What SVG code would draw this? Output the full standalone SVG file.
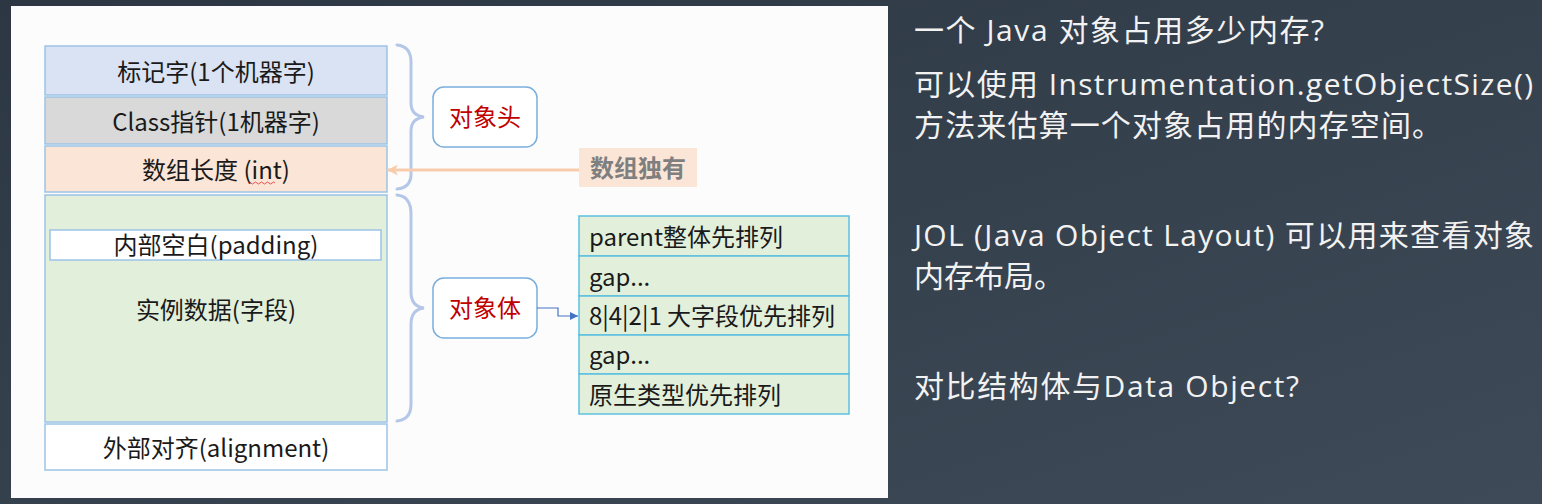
<svg xmlns="http://www.w3.org/2000/svg" width="1542" height="504" viewBox="0 0 1542 504">
<style>
.t{font-family:"Noto Sans CJK SC","Noto Sans",sans-serif;font-size:24px;fill:#1a1a1a}
.c{text-anchor:middle}
.box{stroke:#9dc3e6;stroke-width:1.5}
.row{fill:#e2efda;stroke:#5bc0e0;stroke-width:1.5}
.brace{fill:none;stroke:#b4c7e7;stroke-width:3;stroke-linecap:round}
.lbl{fill:#ffffff;stroke:#7aaedc;stroke-width:1.5}
.red{fill:#c00000}
.note{font-family:"Open Sans","Noto Sans CJK SC",sans-serif;font-size:30px;fill:#f2f2f2}
</style>
<defs>
<linearGradient id="bg" x1="0" y1="0" x2="1" y2="1">
<stop offset="0" stop-color="#2d3744"/>
<stop offset="1" stop-color="#3e4a57"/>
</linearGradient>
<marker id="ah-orange" markerWidth="11" markerHeight="11" refX="10" refY="5.5" orient="auto" markerUnits="userSpaceOnUse">
<path d="M0,0 L11,5.5 L0,11 L3,5.5 Z" fill="#f8cbad"/>
</marker>
<marker id="ah-blue" markerWidth="8" markerHeight="8" refX="8" refY="4" orient="auto" markerUnits="userSpaceOnUse">
<path d="M0,0 L8,4 L0,8 Z" fill="#4472c4"/>
</marker>
</defs>
<rect x="0" y="0" width="1542" height="504" fill="url(#bg)"/>
<rect x="11" y="6" width="877" height="492" fill="#fdfcfd"/>

<g id="mark-word">
<rect class="box" x="45" y="46" width="342" height="49" fill="#dae3f3"/>
<text class="t c" x="216" y="81">标记字(1个机器字)</text>
</g>
<g id="class-pointer">
<rect class="box" x="45" y="97" width="342" height="47" fill="#d9d9d9"/>
<text class="t c" x="216" y="131">Class指针(1机器字)</text>
</g>
<g id="array-length">
<rect class="box" x="45" y="146" width="342" height="46" fill="#fbe5d6"/>
<text class="t c" x="216" y="179">数组长度 (int)</text>
<path d="M248,183 q1.5,-2 3,0 t3,0 t3,0 t3,0 t3,0 t3,0 t3,0 t3,0 t3,0" fill="none" stroke="#e03030" stroke-width="0.8"/>
</g>
<g id="instance-data">
<rect class="box" x="45" y="195" width="342" height="227" fill="#e2efda"/>
<text class="t c" x="216" y="319">实例数据(字段)</text>
</g>
<g id="padding">
<rect class="box" x="50" y="230" width="331" height="30" fill="#ffffff"/>
<text class="t c" x="216" y="254">内部空白(padding)</text>
</g>
<g id="alignment">
<rect class="box" x="45" y="424" width="342" height="46" fill="#ffffff"/>
<text class="t c" x="216" y="457">外部对齐(alignment)</text>
</g>

<g id="brace-header">
<path class="brace" d="M397,45 C407,46 411,52 411,62 L411,103 C411,112 416,116 424,117 C416,118 411,122 411,131 L411,174 C411,183 407,188 397,189"/>
</g>
<g id="brace-body">
<path class="brace" d="M397,195 C407,196 411,203 411,214 L411,292 C411,302 416,307 424,308 C416,309 411,314 411,324 L411,404 C411,414 407,420 397,421"/>
</g>

<g id="object-header">
<rect class="lbl" x="433" y="87" width="104" height="60" rx="11"/>
<text class="t c red" x="485" y="126">对象头</text>
</g>
<g id="object-body">
<rect class="lbl" x="433" y="278" width="104" height="60" rx="11"/>
<text class="t c red" x="485" y="317">对象体</text>
</g>

<g id="array-only">
<rect x="579" y="148" width="118" height="39" fill="#fbe5d6"/>
<text class="t c" x="638" y="177" style="fill:#7f7f7f;font-weight:bold">数组独有</text>
</g>

<g id="field-order">
<rect class="row" x="579" y="216" width="270" height="40"/>
<text class="t" x="589" y="246">parent整体先排列</text>
<rect class="row" x="579" y="256" width="270" height="40"/>
<text class="t" x="589" y="286">gap...</text>
<rect class="row" x="579" y="296" width="270" height="39"/>
<text class="t" x="589" y="325">8|4|2|1 大字段优先排列</text>
<rect class="row" x="579" y="335" width="270" height="39"/>
<text class="t" x="589" y="364">gap...</text>
<rect class="row" x="579" y="374" width="270" height="40"/>
<text class="t" x="589" y="404">原生类型优先排列</text>
</g>

<g id="connectors">
<line x1="579" y1="170" x2="388" y2="170" stroke="#f8cbad" stroke-width="3" marker-end="url(#ah-orange)"/>
<path d="M537,308 H558 V316 H578" fill="none" stroke="#4472c4" stroke-width="1.2" marker-end="url(#ah-blue)"/>
</g>

<g id="notes">
<text class="note" x="914" y="41" textLength="410" lengthAdjust="spacing">一个 Java 对象占用多少内存?</text>
<text class="note" x="914" y="95" textLength="619" lengthAdjust="spacing">可以使用 Instrumentation.getObjectSize()</text>
<text class="note" x="914" y="136" textLength="528" lengthAdjust="spacing">方法来估算一个对象占用的内存空间。</text>
<text class="note" x="914" y="246" textLength="620" lengthAdjust="spacing">JOL (Java Object Layout) 可以用来查看对象</text>
<text class="note" x="914" y="287">内存布局。</text>
<text class="note" x="914" y="397" textLength="385" lengthAdjust="spacing">对比结构体与Data Object?</text>
</g>
</svg>
